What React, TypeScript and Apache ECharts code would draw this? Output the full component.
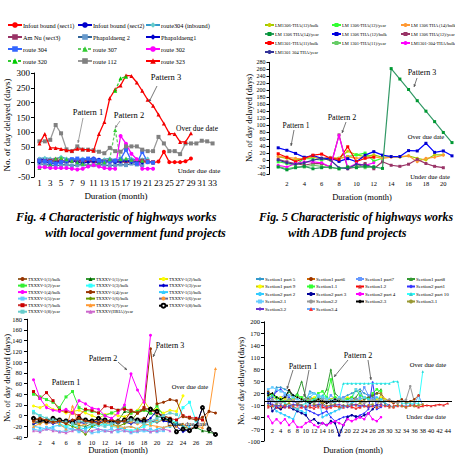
import React, { useEffect, useRef } from "react";
import * as echarts from "echarts";

const SERIF = "'Liberation Serif', 'Times New Roman', serif";

// ---------------- Panel 1 (Fig. 4) ----------------
const p1Sect1 = [5, 8, 3, 5, 2, 0, 4, 6, 3, 5, 2, 0, 3, 1, 5, 3, 0, 2, 4, 2, 0, -2, 2, 35, 0, 0, 0, 3, 12];
const p1Sect2 = [10, 8, 5, 3, 5, 0, 3, 5, 8, 10, 12, 8, 5, 3, 0, 2, 5, 3, 0];
const p1Route304In = [12, 15, 12, 10, 18, 12, 10, 8, 12, 10, 8, 5, 10, 12, 8, 5, 10, 12, 8, 10, 12];
const p1AmNu = [5, 3, 5, 8, 5, 3, 5, 5, 3, 5, 5, 3, 2, 5, 3, 3, 0, 2, 3, 5, 3, 0];
const p1Phap2 = [-5, -8, -10, -12, -10, -8, -12, -10, -8, -12, -10, -8, -10, -12, -10, -8, -10, -5, -8, -10];
const p1Phap1 = [0, 2, -5, -3, 0, 2, 5, 0, -3, 0, 2, -2, 0, 5, 0, 2, 5, 0, 2, -2];
const p1Route304 = [5, 3, 0, -5, 0, 5, 10, 12, 8, 12, 10, 5, 0, 2, 5, 10, 42, 5, -5, 35, 0, -2];
const p1Route307 = [-20, -15, -10, 12, 15, 10, 5, 0, -5, -10, -8, -5, 0, 10, 108, 10, 12, 8, 10, 5];
const p1Route302 = [-17, -17, -20, -20, -20, -20, -22, -25, -22, -15, -10, -15, -20, -22, -22, 88, 62, 28, 10, -22, -22, -22];
const p1Route320 = [null, null, null, null, null, null, null, null, null, null, null, null, null, null, 240, 282, 287];
const p1Route112 = [70, 70, 75, 125, 97, 43, 37, 53, 42, 42, 40, 35, 30, 48, 37, 35, 53, 53, 53, 42, 37, 37, 85, 63, 37, 37, 27, 63, 63, 63, 72, 70, 63];
const p1Route323 = [63, 95, 48, 48, 44, 40, 38, 45, 43, 42, 38, 95, 135, 215, 245, 258, 292, 290, 268, 240, 210, 190, 160, 130, 97, 95, 68, 68, 97];

// ---------------- Panel 2 (Fig. 5) ----------------
const p2A = [10, 5, 0, 5, 8, 5, 0, 5, 25, 15, 10, 15, 8, 10, 8, 12, 5, 0, 15, 15];
const p2B = [-5, -10, -15, 5, 3, 0, 5, 5, 10, 15, 20, -3, 5];
const p2C = [10, 8, 5, 3, 10, 5, 8, 5, 10, 5, 8, 10, 5, 8, 10, 12, -5, 5, 8, 14];
const p2D = [-20, -28, -22, -18, -25, -22, -20, -25, -20, -22, -18, -20, -24, 262, 232, 202, 170, 140, 110, 79, 50];
const p2E = [35, 28, 19, 8, 13, 5, 5, -4, 4, -5, 14, 24, 14, 10, 10, 27, 26, 48, 22, 26, 12];
const p2F = [2, -5, -10, -15, -10, -10, -20, 72, -25, -20, -10, -25, -5, -15, -18, -12, 2, -10, -18, -22];
const p2G = [18, 8, -5, 5, 14, 17, 5, 2, 38, -5, 5, 8];
const p2H = [-18, -25, -20, -20, -15, -18, -22, -25, -20, -15, -22, -20];
const p2I = [-15, -20, -10, -5, -5, -8, -20, 70, -22, -10, -15, -8];
const p2J = [0, -8, -12, -8, 0, 5, 0, -22, -25, -12, -15, -20];

// ---------------- Panel 3 ----------------
const p3_1b = [-8, -5, -10, -12, -8, -10, -15, -12, -8, -10, -12, -15, -10, -8, -12, -10, -8, -5, -10, -12, -8, -10];
const p3_1y = [-15, -10, -12, -5, -8, -10, -15, -18, -20, -15, -10, -8, -12, -10, 8, 5, 10, 12, 5, 0, -5, -10, -15, -20, -25, -22, -28, -30, -35];
const p3_2b = [18, 15, 20, 12, 10, 5, 8, 10, 5, 0, -5, 2, 5, 0, -2, 5, 10, 28, 10, 12, 5, 10, 8, 37];
const p3_2y = [40, 35, 30, 25, 15, 35, 45, 15, 10, 8, 5, 0, 5, 10, 15, 5, 8, 10, 5, 18, 0, -5];
const p3_3b = [8, 0, -5, -10, -15, -20, -18, -22, -25, -20, -18, -15, -20, -22, -25, -28, -25, -20, -15, -10, -5, -8, -12, 15, 25, -10];
const p3_3y = [-15, -12, -10, -15, -12, -10, -8, -12, -15, -10, -12, -8, -15, -10, -12, -15, -10, -12, -5, 10, -10, -12, -20, -30, -25, -20, 15];
const p3_4b = [67, 32, 15, 10, 8, 12, 5, 28, 22, 14, 12, 0, -5, 5, 20, 78, 48, 25, 150];
const p3_4y = [-10, -5, -8, -12, -10, -15, -8, -5, -10, -12, -15, -10, -8, -12, -10, 8, 5, 12, 125, 22, 25, 30, 28, -2, -5, -8, -3, 8, 5];
const p3_5b = [-20, -22, -25, -20, -18, -22, -25, -28, -22, -20, -25, -28, -30, -25, -22, -20, -25, -28, -30, -25, -22, -20, -15, -18, -20];
const p3_5y = [-25, -28, -22, -25, -30, -28, -25, -30, -28, -32, -30, -28, -25, -30, -28, -32, -30, -28, -25, -30, -28];
const p3_6b = [-10, -15, -8, -12, -10, -15, -20, -25, -35, -20, -15, -10, -15, -20, -15, -10, 5, 10, 15, 5, 0, -5];
const p3_6y = [-12, -10, -15, -12, -8, -10, -12, -15, -10, -12, -8, -10, -15, -12, -10, -12, -15, -10, -12, -8];
const p3_7b = [45, 32, 43, 28, 10, 8, 5, 0, 12, 10, 5, 18, 15, 10, 12, 10, 5, 15, 10, 5, 0, -5, -8, 0, -3, -5, -8];
const p3_7y = [-20, -15, -10, -12, -15, -25, 18, -20, -15, -10, -8, -12, -18, -20, -22, -20, -25, -15, -18, -20, -22, -18, -20, -15, -25, -20, -22, 8, 88];
const p3_8b = [-5, -8, -10, -5, -8, -10, -12, -5, -8, -10, -5, -8, -10, -12, -8, -5, -8, -10, 12, 8, -5, -8, -30, -25, -28, -20, 15, -25, -35];
const p3_8y = [5, 0, -5, -8, -10, -12, -15, -10, -12, -15, -18, -20, -15, -12, -10, -8, -12, -15, -10, -5, 0, 5, 2];
const p3_hria = [-28, -30, -25, -28, -30, -32, -28, -25, -30, -28, -25, -28, -30, -25, -28, -30, -28, -25, -30, -28, -25, -28];

// ---------------- Panel 4 ----------------
const p4s1p5 = [10, 5, 35, 35, 30, 25, 15, 10, 5, 0, 25, 20, 15, 10, 5, 0, -5, 5, 10, 15, 20, 25, 30, 20, 15, 10, 5, 0, -5, -10];
const p4s1p6 = [25, 15, 10, 5, 0, 28, 5, -5, 0, 5, 10, 5, 0, -5, 0, 5, 10, 5, 0, 5, 10, 5, 0, 5, 10, 15, 20, 20, 5, 0, -5, 0, 5, -5, 0, 5, 15];
const p4s1p7 = [5, 0, -5, 10, 15, 5, 0, 10, 5, 0, -5, 5, 10, 5, 0, 15, 5, 0, 10, 5, 0, 5, 10, 35, 15, 5, 0];
const p4s1p8 = [15, 20, 10, 5, 8, 25, 10, 20, 50, 10, 5, 0, 5, 10, 30, 80, 20, 10, 5, 0, 5, 10, 25, 5, 10, 15, 20, 30];
const p4s1p9 = [15, 10, 5, 10, 5, 0, 5, 10, 5, 0, 5, 10, 5, 0, 5, 5, 10, 0, 5, 10, 5, 0, 5, 10, 5, 0, 5, 10, 5];
const p4s11 = [20, 15, 10, 5, 0, 5, 10, 15, 10, 5, 0, 5, 20, 25, 10, 55, 10, 5, 0, 5, 10, 30, 15, 10, 5, 20, 30, 25];
const p4s12 = [-15, -12, -15, -18, -15, -12, -15, -18, -15, -12, -15, -18, -12, -15, -18, -15, -12, -15, -15, -12, -15, -18, -15, -12, -15, -12, -15, -12, -10, -15, -12, -10, -12, -15, -10, -12, -15, -12, -10, -12, -10, -8, -10, -5];
const p4s2p1 = [5, 10, 25, 30, 20, 10, 0, -5, -10, -20, -25, -30, -35, -30, -25, -40, -50, -45, -40, -38, -35, -40, -35, -30, -20, 48, -20, -15];
const p4s2p2 = [-5, -10, -25, -30, -35, -40, -45, -20, -25, -30, 10, 20, 15, -40, -35, -30, -25, -20, -15, -10, -5, 0, 5, 10, 5, 0, 10, 5, 0];
const p4s2p3 = [20, -25, -15, -20, -10, -15, -20, -25, -30, -35, -50, -45, -55, -55, -60, -50, -55, -86, -60, -40, -35, -38, -40, -35, -30, -20, -10];
const p4s2p4 = [-38, -55, -45, -55, -45, -60, -50, -65, -65, -55, -50, -60, -65, -55, -60, -55, -50, -55, -60, -45, -50, -45, -40, -45, -30, -45, -50, -40];
const p4s2p10 = [10, 15, 5, 0, -5, -10, -15, -20, -10, -5, 0, 5, 10, 15, 10, 5, 0, 5, 45, 45, 45, 45, 45, 45, 45, 45, 45, 45, 45, 45, 50, 50, -5, -5, -5, -5, -5, 75];
const p4s21 = [30, 35, 30, 25, 20, 15, 10, 5, 0, 5, 20, 20, 15, 10, 5, 0, 5, 10, 5, 0, 5, 30, 20, 10];
const p4s22 = [0, 4, -2, -6, 1, 5, 2, -4, 0, 6, 3, -5, 1, 4, -1, -6, 2, 5, 0, -3, 1, 6, -2, -5, 0, 3, 1, -4, 2, 5, -1, -5, 0, 4, 38, -2];
const p4s23 = [15, 20, 10, 5, 10, 28, 15, 10, 5, 0, -5, 0, 5, 0, -5, 0, 5, 0];
const p4s31 = [-10, -12, -8, -15, -10, -5, -12, -8, -10, -15, -12, -8, -10, -5, -12, -10, -8, -15, -10, -12, -8, -10, -5, -12, -10, -8, -15, 20, -10, -12, -15, -10, -12, -15, -10, -12, -10, -8];
const p4s32 = [-5, -8, -12, -10, -15, -12, -8, -10, -12, -15, -10, -12, -8, -10, -15, -12, -10, -8, -12, -15, -10, -8, -12, -10, -15, -12, -10, -8, -12, -10];
const p4s34 = [-12, -10, -15, -12, -10, -15, -12, -10, -15, -12, -10, -12, -15, -10, -12, -15, -10, -12, -15, -10, -12, -10, -15, -12, -10, -12, -15, -10, -12, -10, -15, -12, -10, -12, -10, -8, 15, -10];

interface Cfg {
  name: string;
  data: (number | null)[];
  line: string;
  mark?: string;
  symbol?: string;
  dash?: boolean;
  z?: number;
}

const panel1: Cfg[] = [
  { name: "Infout bound (sect1)", data: p1Sect1, line: "#ff0000", symbol: "circle" },
  { name: "Infout bound (sect2)", data: p1Sect2, line: "#0000cc", symbol: "circle" },
  { name: "route304 (inbound)", data: p1Route304In, line: "#3399cc", mark: "#66cccc", symbol: "diamond" },
  { name: "Am Nu (sect3)", data: p1AmNu, line: "#993366", symbol: "rect" },
  { name: "Phapaldaeng 2", data: p1Phap2, line: "#336699", mark: "#6699cc", symbol: "rect" },
  { name: "Phapaldaeng1", data: p1Phap1, line: "#0000cc", symbol: "diamond" },
  { name: "route 304", data: p1Route304, line: "#3366ff", symbol: "rect" },
  { name: "route 307", data: p1Route307, line: "#66cc66", mark: "#33cc33", symbol: "triangle", dash: true },
  { name: "route 302", data: p1Route302, line: "#ff00ff", symbol: "circle" },
  { name: "route 320", data: p1Route320, line: "#33cc33", mark: "#00cc00", symbol: "triangle", dash: true, z: 4 },
  { name: "route 112", data: p1Route112, line: "#999999", mark: "#808080", symbol: "rect" },
  { name: "route 323", data: p1Route323, line: "#ff0000", mark: "#ee0000", symbol: "triangle", z: 3 },
];

const panel2: Cfg[] = [
  { name: "LM1306-THA(12)/bulk", data: p2A, line: "#99cc00", mark: "#cccc00", symbol: "circle" },
  { name: "LM 1306-THA(12)/year", data: p2B, line: "#33ff33", symbol: "rect" },
  { name: "LM 1306 THA (14)/bulk", data: p2C, line: "#ff9933", symbol: "circle" },
  { name: "LM 1306 THA(14)/year", data: p2D, line: "#339966", mark: "#009933", symbol: "rect", z: 3 },
  { name: "LM 1306 THA (12)/bulk", data: p2E, line: "#0000ff", mark: "#0000cc", symbol: "rect" },
  { name: "LM 1306 THA(12)/year", data: p2F, line: "#993366", symbol: "rect" },
  { name: "LM1301-THA(11)/bulk", data: p2G, line: "#ff0000", symbol: "rect" },
  { name: "LM 1301-THA(11)/year", data: p2H, line: "#66cc66", symbol: "rect" },
  { name: "LM1301-304-THA/bulk", data: p2I, line: "#ff00ff", symbol: "circle" },
  { name: "LM1301 304 THA/year", data: p2J, line: "#333399", symbol: "circle" },
];

const panel3: Cfg[] = [
  { name: "TXXXV-1(1)/bulk", data: p3_1b, line: "#996633", mark: "#993300", symbol: "circle" },
  { name: "TXXXV-1(1)/year", data: p3_1y, line: "#339933", mark: "#006600", symbol: "triangle" },
  { name: "TXXXV-1(2)/bulk", data: p3_2b, line: "#e6e600", mark: "#ffff00", symbol: "circle" },
  { name: "TXXXV-1(2)/year", data: p3_2y, line: "#33ee33", symbol: "rect" },
  { name: "TXXXV-1(3)/bulk", data: p3_3b, line: "#33ffff", symbol: "rect" },
  { name: "TXXXV-1(3)/year", data: p3_3y, line: "#0000cc", symbol: "diamond" },
  { name: "TXXXV-1(4)/bulk", data: p3_4b, line: "#ff00ff", symbol: "circle", z: 4 },
  { name: "TXXXV-1(4)/year", data: p3_4y, line: "#993300", symbol: "circle", z: 3 },
  { name: "TXXXV-1(5)/bulk", data: p3_5b, line: "#33ccff", symbol: "triangle" },
  { name: "TXXXV-1(5)/year", data: p3_5y, line: "#66ccff", symbol: "rect" },
  { name: "TXXXV-1(6)/bulk", data: p3_6b, line: "#669900", symbol: "diamond" },
  { name: "TXXXV-1(6)/year", data: p3_6y, line: "#666699", mark: "#ff9933", symbol: "circle" },
  { name: "TXXXV-1(7)/bulk", data: p3_7b, line: "#cc3333", mark: "#cc0000", symbol: "rect" },
  { name: "TXXXV-1(7)/year", data: p3_7y, line: "#ff9933", symbol: "triangle" },
  { name: "TXXXV-1(8)/bulk", data: p3_8b, line: "#000000", symbol: "emptyCircle" },
  { name: "TXXXV-1(8)/year", data: p3_8y, line: "#66cccc", symbol: "rect" },
  { name: "TXXXV(HRIA)/year", data: p3_hria, line: "#cc66cc", symbol: "triangle" },
];

const panel4: Cfg[] = [
  { name: "Section1 part 5", data: p4s1p5, line: "#3399cc", symbol: "diamond" },
  { name: "Section1 part6", data: p4s1p6, line: "#cc6600", mark: "#993300", symbol: "circle" },
  { name: "Section1 part7", data: p4s1p7, line: "#6699ff", symbol: "rect" },
  { name: "Section1 part8", data: p4s1p8, line: "#339933", symbol: "triangle" },
  { name: "Section1 part 9", data: p4s1p9, line: "#cccc00", mark: "#ffff00", symbol: "circle" },
  { name: "Section1.1", data: p4s11, line: "#33ff33", symbol: "rect" },
  { name: "Section1.2", data: p4s12, line: "#ff0000", mark: "#cc3333", symbol: "triangle" },
  { name: "Section2 part1", data: p4s2p1, line: "#3333ff", symbol: "diamond" },
  { name: "Section2 part 2", data: p4s2p2, line: "#33ccff", symbol: "circle" },
  { name: "Section2 part 3", data: p4s2p3, line: "#000099", symbol: "circle" },
  { name: "Section2 part 4", data: p4s2p4, line: "#ff00ff", symbol: "circle" },
  { name: "Section2 part 10", data: p4s2p10, line: "#33ffff", mark: "#33cccc", symbol: "triangle" },
  { name: "Section2.1", data: p4s21, line: "#66ccff", symbol: "rect" },
  { name: "Section2.2", data: p4s22, line: "#999999", symbol: "circle" },
  { name: "Section2.3", data: p4s23, line: "#000000", symbol: "diamond" },
  { name: "Section3.1", data: p4s31, line: "#999933", symbol: "circle" },
  { name: "Section3.2", data: p4s32, line: "#6633cc", symbol: "diamond" },
  { name: "Section3.4", data: p4s34, line: "#66aaff", mark: "#ff3333", symbol: "triangle" },
];

function toSeries(list: Cfg[], idx: number, size: number, width: number) {
  return list.map((s) => {
    const pts: [number, number][] = [];
    s.data.forEach((v, i) => {
      if (v !== null) pts.push([i + 1, v]);
    });
    const ser: any = {
      type: "line",
      name: s.name,
      xAxisIndex: idx,
      yAxisIndex: idx,
      data: pts,
      symbol: s.symbol || "circle",
      symbolSize: size,
      showSymbol: true,
      z: s.z || 2,
      lineStyle: { color: s.line, width, type: s.dash ? [3, 2] : "solid" },
      itemStyle: { color: s.mark || s.line, borderWidth: 0 },
      emphasis: { disabled: true },
    };
    if (s.name === "Section2.3") {
      ser.markLine = {
        symbol: "none",
        silent: true,
        label: { show: false },
        lineStyle: { color: "#000", type: "solid", width: 1 },
        data: [{ yAxis: 0 }],
      };
    }
    return ser;
  });
}

// one legend component per item, laid out in a grid of columns/rows
function legends(list: Cfg[], lefts: number[], rows: number[], fs: number, iw: number, ih: number) {
  const ncol = lefts.length;
  return list.map((s, i) => {
    const c = i % ncol;
    const r = Math.floor(i / ncol);
    return {
      orient: "horizontal",
      left: lefts[c],
      top: rows[r] - ih / 2,
      padding: 0,
      itemGap: 0,
      itemWidth: iw,
      itemHeight: ih,
      selectedMode: false,
      data: [s.name],
      textStyle: { fontFamily: SERIF, fontSize: fs, lineHeight: ih, color: "#000", padding: [0, 0, 0, -4] },
    };
  });
}

function yAxis(idx: number, min: number, max: number, interval: number, fs: number, margin: number) {
  return {
    type: "value",
    gridIndex: idx,
    min,
    max,
    interval,
    splitLine: { show: false },
    axisLine: { show: true, lineStyle: { color: "#000", width: 1 } },
    axisTick: { show: true, length: 3, lineStyle: { color: "#000" } },
    axisLabel: { fontFamily: SERIF, fontSize: fs, color: "#000", margin },
  };
}

function xAxis(idx: number, min: number, max: number, interval: number, fs: number, margin: number, fmt: (v: number) => string, offset = 0) {
  return {
    type: "value",
    gridIndex: idx,
    min,
    max,
    interval,
    offset,
    splitLine: { show: false },
    axisLine: { show: false },
    axisTick: { show: false },
    axisLabel: { fontFamily: SERIF, fontSize: fs, color: "#000", margin, formatter: fmt, showMinLabel: true, showMaxLabel: true },
  };
}

function txt(text: string, x: number, y: number, fs: number, opts: any = {}) {
  return {
    type: "text",
    x,
    y,
    rotation: opts.rot || 0,
    silent: true,
    z: 50,
    style: {
      text,
      fill: "#000",
      fontFamily: SERIF,
      fontSize: fs,
      fontWeight: opts.bold ? "bold" : "normal",
      fontStyle: opts.italic ? "italic" : "normal",
      align: opts.align || "center",
      verticalAlign: "middle",
    },
  };
}

function arrow(x1: number, y1: number, x2: number, y2: number, color = "#555") {
  const ang = Math.atan2(y2 - y1, x2 - x1);
  const L = 3;
  const a1 = ang + Math.PI * 0.85;
  const a2 = ang - Math.PI * 0.85;
  return [
    { type: "line", silent: true, z: 50, shape: { x1, y1, x2, y2 }, style: { stroke: color, lineWidth: 0.8 } },
    {
      type: "polygon",
      silent: true,
      z: 50,
      shape: { points: [[x2, y2], [x2 + L * Math.cos(a1), y2 + L * Math.sin(a1)], [x2 + L * Math.cos(a2), y2 + L * Math.sin(a2)]] },
      style: { fill: color },
    },
  ];
}

const YT = "No. of day delayed (days)";
const XT = "Duration (month)";

export default function App() {
  const ref = useRef<HTMLDivElement>(null);
  useEffect(() => {
    if (!ref.current) return;
    const chart = echarts.init(ref.current, undefined, { renderer: "svg" });
    const graphics: any[] = [
      txt("Fig. 4 Characteristic of highways works", 16, 217, 12.2, { bold: true, italic: true, align: "left" }),
      txt("with local government fund projects", 45, 233, 12.2, { bold: true, italic: true, align: "left" }),
      txt("Fig. 5 Characteristic of highways works", 259, 217, 11.8, { bold: true, italic: true, align: "left" }),
      txt("with ADB fund projects", 288, 233, 12.2, { bold: true, italic: true, align: "left" }),
      txt(YT, 7, 125, 9, { rot: Math.PI / 2 }),
      txt(XT, 116, 196, 9),
      txt(YT, 249, 118, 8.5, { rot: Math.PI / 2 }),
      txt(XT, 362, 197, 8.5),
      txt(YT, 7, 378, 8.5, { rot: Math.PI / 2 }),
      txt(XT, 118, 450, 8.5),
      txt(YT, 241, 381, 8.5, { rot: Math.PI / 2 }),
      txt(XT, 353, 450, 8.5),
      txt("Pattern 1", 88, 112, 8.5),
      txt("Pattern 2", 129, 115, 8.5),
      txt("Pattern 3", 166, 77, 8.5),
      txt("Over due date", 197, 128, 7.5),
      txt("Under due date", 199, 171, 7),
      ...arrow(83, 118, 78, 143, "#888"),
      ...arrow(120, 121, 115, 128, "#888"),
      ...arrow(157, 86, 149, 102, "#555"),
      txt("Pattern 1", 296, 125, 7.5),
      txt("Pattern 2", 342, 117, 8),
      txt("Pattern 3", 422, 72, 8),
      txt("Over due date", 426, 136, 6.5),
      txt("Under due date", 430, 176, 6.5),
      ...arrow(294, 130, 291, 146),
      ...arrow(346, 122, 342, 133),
      ...arrow(417, 78, 414, 87),
      txt("Pattern 1", 66, 382, 8),
      txt("Pattern 2", 103, 358, 8),
      txt("Pattern 3", 170, 345, 8),
      txt("Over due date", 190, 386, 6.5),
      txt("Under due date", 187, 423, 6.5),
      ...arrow(118, 362, 127, 370),
      ...arrow(157, 348, 153, 357),
      txt("Pattern 1", 303, 366, 8),
      txt("Pattern 2", 358, 355, 8),
      txt("Over due date", 428, 364, 6.5),
      txt("Under due date", 426, 416, 6.5),
      ...arrow(293, 370, 287, 389),
      ...arrow(309, 370, 304, 397),
      ...arrow(348, 360, 334, 377),
      ...arrow(368, 360, 371, 380),
    ];

    const option: any = {
      animation: false,
      backgroundColor: "#fff",
      grid: [
        { left: 34, top: 73, width: 184, height: 104 },
        { left: 269.5, top: 62.3, width: 186.7, height: 111.7 },
        { left: 27, top: 319.2, width: 195, height: 117.9 },
        { left: 264, top: 321.8, width: 188.1, height: 119.2 },
      ],
      xAxis: [
        xAxis(0, 0, 34, 1, 9, 1.5, (v) => (v % 2 === 1 && v <= 33 ? String(v) : "")),
        xAxis(1, 0, 21, 2, 6.5, 5.5, (v) => (v > 0 && v <= 20 ? String(v) : "")),
        xAxis(2, 0, 30, 2, 6.5, 1.8, (v) => (v > 0 && v <= 28 ? String(v) : "")),
        xAxis(3, 0, 45, 2, 6.5, 2, (v) => (v > 0 && v <= 44 ? String(v) : ""), -16),
      ],
      yAxis: [
        yAxis(0, -50, 300, 50, 9, 4),
        yAxis(1, -40, 280, 20, 6, 4),
        yAxis(2, -40, 180, 20, 6.5, 5),
        yAxis(3, -100, 200, 30, 6.5, 4),
      ],
      legend: [
        ...legends(panel1, [7, 77, 145], [25, 37, 49, 61], 6.3, 14, 7),
        ...legends(panel2, [264, 331, 400], [25, 34, 43, 52], 4.5, 9, 5),
        ...legends(panel3, [17, 85, 158], [279, 285.6, 292.1, 298.6, 305.2, 311.7], 4.3, 9, 5),
        ...legends(panel4, [255, 306, 355, 406], [279, 286.5, 294, 301.5, 309], 5, 8, 5),
      ],
      series: [
        ...toSeries(panel1, 0, 4, 1.3),
        ...toSeries(panel2, 1, 3, 1.2),
        ...toSeries(panel3, 2, 3, 1),
        ...toSeries(panel4, 3, 2.5, 1),
      ],
      graphic: graphics,
    };
    chart.setOption(option);
    return () => chart.dispose();
  }, []);
  return <div ref={ref} style={{ position: "absolute", left: 0, top: 0, width: 455, height: 472, background: "#fff" }} />;
}
